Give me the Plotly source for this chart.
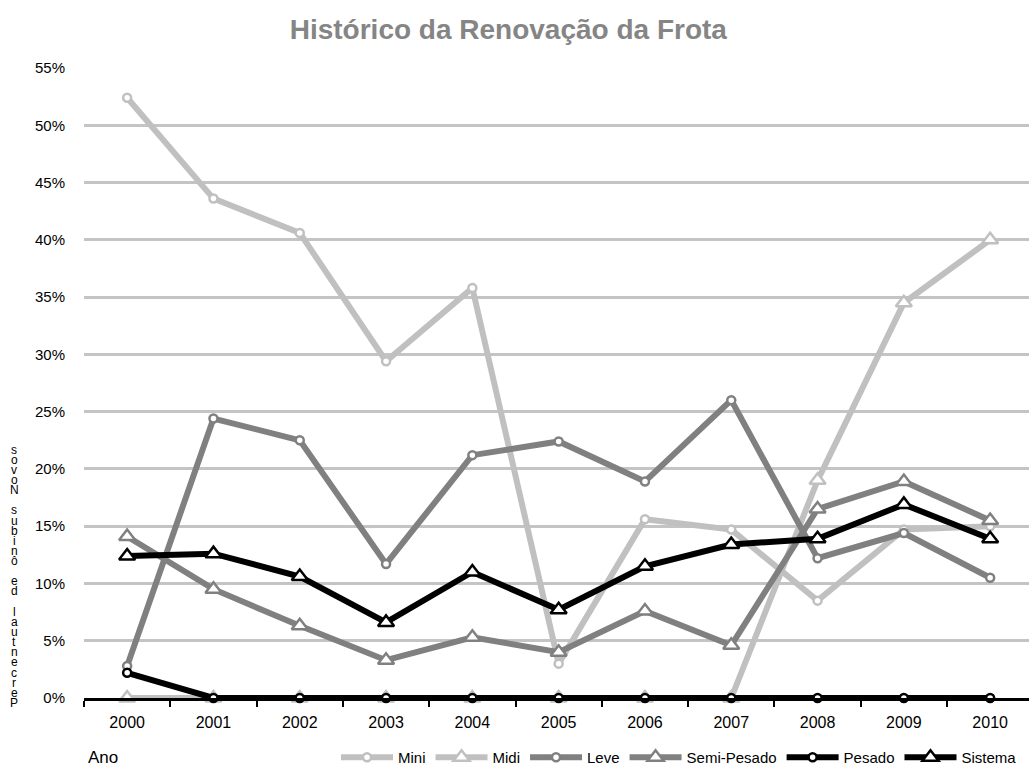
import plotly.graph_objects as go

# Dados: percentual de ônibus novos por categoria de veículo
anos = ["2000", "2001", "2002", "2003", "2004", "2005", "2006", "2007", "2008", "2009", "2010"]
mini = [52.4, 43.6, 40.6, 29.4, 35.8, 3.0, 15.6, 14.7, 8.5, 14.7, 15.0]
midi = [0, 0, 0, 0, 0, 0, 0, 0, 19.0, 34.5, 40.0]
leve = [2.8, 24.4, 22.5, 11.7, 21.2, 22.4, 18.9, 26.0, 12.2, 14.4, 10.5]
semi_pesado = [14.1, 9.5, 6.3, 3.3, 5.3, 4.0, 7.6, 4.6, 16.5, 18.9, 15.5]
pesado = [2.2, 0, 0, 0, 0, 0, 0, 0, 0, 0, 0]
sistema = [12.4, 12.6, 10.6, 6.6, 11.0, 7.7, 11.5, 13.4, 13.9, 16.9, 13.9]

series = [
    ("Mini", mini, "#c0c0c0", "circle"),
    ("Midi", midi, "#c0c0c0", "triangle-up"),
    ("Leve", leve, "#808080", "circle"),
    ("Semi-Pesado", semi_pesado, "#808080", "triangle-up"),
    ("Pesado", pesado, "#000000", "circle"),
    ("Sistema", sistema, "#000000", "triangle-up"),
]

FONT = "Liberation Sans, Arial, Helvetica, sans-serif"

fig = go.Figure()
for nome, valores, cor, simbolo in series:
    tri = simbolo.startswith("triangle")
    fig.add_trace(go.Scatter(
        x=anos, y=valores, name=nome, mode="lines+markers",
        line=dict(color=cor, width=6),
        marker=dict(symbol=simbolo, size=14 if tri else 8, color="white",
                    line=dict(color=cor, width=2.5)),
        cliponaxis=False,
    ))

fig.update_layout(
    width=1029, height=774,
    margin=dict(l=84, r=0, t=68, b=72),
    paper_bgcolor="white", plot_bgcolor="white",
    font=dict(family=FONT, size=15, color="black"),
    title=dict(text="<b>Histórico da Renovação da Frota</b>",
               font=dict(family=FONT, size=28, color="#858585"),
               x=0.494, xref="container", xanchor="center",
               y=1 - 29 / 774, yref="container", yanchor="middle"),
    showlegend=True,
    legend=dict(orientation="h", x=(336 - 84) / 945, xanchor="left",
                y=(702 - 762) / 634, yanchor="middle",
                font=dict(family=FONT, size=15), itemwidth=52,
                bgcolor="rgba(0,0,0,0)"),
)

fig.update_xaxes(
    type="category", range=[-0.5, 10.45],
    showline=True, linecolor="black", linewidth=3,
    ticks="outside", tickson="boundaries", ticklen=6, tickwidth=2, tickcolor="black",
    showgrid=False, zeroline=False,
    ticklabelstandoff=8,
    tickfont=dict(family=FONT, size=16),
)
fig.update_yaxes(
    range=[0, 55], dtick=5, ticksuffix="%",
    showgrid=True, gridcolor="#c4c4c4", gridwidth=3,
    zeroline=False, showline=False, ticks="",
    ticklabelstandoff=18,
    tickfont=dict(family=FONT, size=15),
)

# Rótulo do eixo x
fig.add_annotation(text="Ano", xref="paper", yref="paper",
                   x=(103 - 84) / 945, y=(702 - 762) / 634,
                   showarrow=False, font=dict(family=FONT, size=17),
                   xanchor="center", yanchor="middle")

# Rótulo do eixo y: letras empilhadas de baixo para cima
rotulo_y = "Percentual de ônibus Novos"
passo = (707 - 452) / (len(rotulo_y) - 1)
for i, ch in enumerate(rotulo_y):
    if ch == " ":
        continue
    py = 707 - i * passo
    fig.add_annotation(text=ch, xref="paper", yref="paper",
                       x=(14 - 84) / 945, y=(702 - py) / 634,
                       showarrow=False, font=dict(family=FONT, size=12),
                       xanchor="center", yanchor="middle")

fig.write_html("out.html")
